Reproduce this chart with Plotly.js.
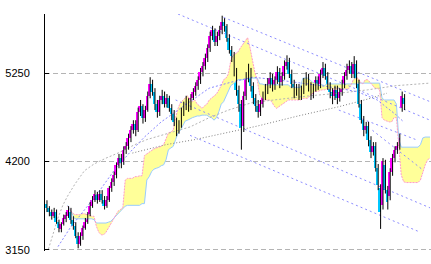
<!DOCTYPE html>
<html><head><meta charset="utf-8">
<script src="https://cdn.plot.ly/plotly-3.0.1.min.js"></script>
<style>html,body{margin:0;padding:0;background:#fff}#chart{width:431px;height:264px}</style>
</head><body><div id="chart"></div>
<script>
const open=[3700,3650,3600,3550,3600,3480,3400,3460,3520,3550,
3600,3510,3440,3320,3220,3320,3410,3480,3580,3670,
3740,3800,3740,3820,3740,3670,3740,3890,3960,4040,
4160,4240,4190,4340,4380,4480,4570,4650,4570,4790,
4860,4720,4810,4980,5120,5030,4880,4790,4930,4980,
4880,4950,4840,4760,4670,4570,4650,4790,4860,4910,
4840,4950,5030,5100,5170,5260,5330,5430,5550,5690,
5760,5620,5690,5760,5850,5810,5660,5520,5450,5260,
5050,4880,4620,4980,5190,5260,5100,4950,4860,4790,
4880,4980,5050,5120,5190,5100,5170,5260,5140,5210,
5330,5380,5240,5120,5030,5070,4980,5050,5140,5190,
5100,5000,5070,5170,5120,5240,5310,5210,5100,5030,
4980,5050,4950,5030,5120,5210,5290,5330,5240,5360,
5120,4880,4690,4570,4620,4460,4310,4380,4120,3890,
3680,4160,3860,3790,4080,4240,4340,4380,4840,4950];
const high=[3740,3670,3630,3650,3630,3510,3480,3570,3600,3670,
3650,3550,3480,3360,3360,3440,3530,3600,3720,3790,
3860,3840,3860,3860,3790,3790,3910,4000,4080,4190,
4290,4290,4380,4430,4530,4620,4690,4690,4840,4930,
4880,4860,5030,5200,5170,5070,4930,4980,5050,5030,
5000,4980,4880,4810,4720,4690,4840,4910,4980,4950,
5000,5070,5140,5210,5310,5380,5480,5590,5740,5810,
5780,5740,5810,5930,5900,5830,5710,5570,5500,5310,
5100,4930,5030,5260,5360,5310,5140,5000,4930,4930,
5030,5120,5190,5260,5240,5210,5330,5310,5260,5400,
5460,5430,5290,5170,5120,5120,5100,5190,5260,5240,
5140,5120,5210,5210,5290,5380,5360,5260,5140,5070,
5100,5100,5070,5170,5260,5360,5400,5380,5450,5400,
5170,4930,4740,4670,4670,4500,4430,4430,4170,3930,
4240,4220,3910,4120,4290,4380,4430,4530,5030,5000];
const low=[3600,3550,3510,3530,3460,3360,3360,3440,3480,3530,
3460,3390,3290,3170,3200,3270,3390,3460,3550,3650,
3720,3700,3720,3700,3630,3650,3720,3840,3910,4000,
4120,4120,4160,4290,4340,4430,4530,4500,4550,4740,
4650,4670,4790,4950,4980,4810,4720,4740,4880,4840,
4840,4790,4690,4620,4500,4530,4600,4740,4810,4790,
4810,4930,4980,5050,5120,5210,5290,5380,5500,5640,
5570,5570,5640,5710,5740,5620,5480,5380,5210,4980,
4790,4340,4550,4930,5140,5030,4880,4790,4720,4740,
4840,4930,5000,5070,5030,5050,5120,5070,5100,5170,
5290,5190,5070,4950,4980,4930,4930,5000,5100,5030,
4930,4950,5030,5050,5070,5190,5170,5050,4950,4880,
4930,4880,4910,4980,5070,5170,5240,5190,5190,5070,
4840,4650,4500,4530,4380,4240,4270,4080,3860,3400,
3630,3820,3630,3740,4030,4190,4290,4340,4790,4810];
const close=[3650,3600,3550,3600,3480,3410,3460,3530,3570,3630,
3510,3440,3320,3220,3320,3410,3480,3580,3670,3740,
3820,3740,3820,3740,3670,3740,3890,3960,4040,4160,
4240,4180,4340,4380,4480,4570,4650,4570,4790,4860,
4720,4810,4980,5120,5030,4880,4790,4930,4980,4880,
4950,4840,4760,4670,4570,4650,4790,4860,4910,4840,
4950,5030,5100,5170,5260,5330,5430,5550,5690,5760,
5620,5690,5760,5850,5810,5660,5520,5450,5260,5050,
4880,4600,4980,5190,5260,5100,4950,4860,4790,4880,
4980,5050,5120,5190,5100,5170,5260,5140,5210,5330,
5380,5240,5120,5030,5070,4980,5050,5140,5190,5100,
5000,5070,5170,5120,5240,5310,5210,5100,5030,4980,
5050,4950,5030,5120,5210,5290,5330,5240,5360,5120,
4880,4690,4570,4620,4460,4310,4380,4120,3920,3600,
4200,3860,3720,4080,4240,4340,4380,4480,4980,4880];

const spanStart=9;
const spanA=[3670,3630,3590,3570,3570,3570,3580,3580,3570,3570,3550,3550,
3430,3360,3330,3330,3360,3410,3460,3510,3570,3610,
3630,3650,3980,4000,4000,4000,4020,4020,4030,4030,
4270,4290,4310,4340,4350,4360,4370,4380,4400,4460,
4540,4550,4570,4720,4830,4900,4930,4950,4980,4930,
4910,4930,4880,4860,4830,4860,4880,4930,4950,4980,
5000,5050,5100,5170,5190,5240,5400,5460,5480,5500,
5550,5590,5640,5670,5550,5400,5260,5170,4990,4950,
4930,4930,4930,4910,4860,4830,4850,4860,4880,4910,
4930,4930,4930,4930,4930,4930,4950,4950,4950,4980,
5000,5030,5030,5040,5050,5050,5060,5060,5060,5060,
5060,5060,5060,5060,5060,5060,5100,5170,5190,5190,
5140,5120,5170,5170,5140,5100,5070,5070,5050,4720,
4690,4680,4670,4670,4720,4720,4400,4040,3960,3950,
3950,3950,3950,3950,3950,3980,4080,4160,4220,4240];
const spanB=[3680,3630,3580,3520,3520,3520,3520,3520,3520,3520,3520,3510,
3470,3470,3470,3470,3470,3480,3490,3520,3550,3580,
3600,3640,3670,3680,3680,3680,3680,3680,3680,3700,
3700,3980,4020,4080,4110,4120,4130,4150,4160,4220,
4340,4360,4380,4460,4540,4570,4630,4680,4690,4710,
4720,4730,4740,4740,4750,4750,4750,4730,4720,4690,
4720,4790,4880,4910,4980,5050,5100,5120,5140,5170,
5170,5170,5180,5180,5190,5190,5190,5190,5120,5120,
5110,5110,5110,5110,5110,5110,5110,5110,5110,5110,
5110,5080,5080,5080,5080,5080,5190,5190,5190,5170,
5140,5130,5120,5110,5110,5100,5120,5120,5120,5120,
5120,5120,5120,5120,5120,5120,5120,5120,5120,5130,
5130,5130,5130,5130,5130,5130,5130,5130,5130,4950,
4930,4930,4930,4930,4930,4880,4460,4370,4370,4370,
4370,4370,4370,4370,4370,4400,4480,4490,4490,4490];

const ma1X=[1,3,5,7,9,12,16,20,25,30,37,42,50,60,68,76,86,98,110,122,134,146,160];
const ma1=[3160,3360,3530,3680,3790,3930,4090,4170,4240,4300,4400,4460,4530,4610,4720,4810,4900,4940,4980,5010,5050,5100,5130];
const ma2X=[36,42,50,62,76,88,105,122,134,142];
const ma2=[4300,4340,4400,4460,4550,4620,4740,4850,4940,5010];
const ma3X=[5,10,16,22,28,35,41,48,55,62,68,77,86,96,110,122,130,138,146,149];
const ma3=[3190,3410,3625,3840,4080,4310,4490,4670,4810,4950,5070,5140,5200,5170,5120,5070,5025,4930,4750,4670];

const trendStartX=[55,74,54,60,122,136];
const trendStartY=[5950,5910,4930,4510,4810,4570];
const trendEndX=[160,160,160,156,155,157];
const trendEndY=[4690,4910,3650,3360,4450,4100];

const yTicks=[3150,4200,5250];
const yTickLabels=['3150','4200','5250'];

const idx=close.map((_,i)=>i);
const spanX=spanA.map((_,k)=>k+spanStart);
const UP='#ff00ff', DOWN='#00c8ff';

const traces=[];
traces.push({x:spanX,y:spanB,type:'scatter',mode:'lines',line:{width:0},hoverinfo:'skip'});
traces.push({x:spanX,y:spanA,type:'scatter',mode:'lines',line:{width:0},fill:'tonexty',fillcolor:'#ffff99',hoverinfo:'skip'});
traces.push({x:spanX,y:spanB,type:'scatter',mode:'lines',line:{width:1,color:'#99ccff'}});
traces.push({x:spanX,y:spanA,type:'scatter',mode:'lines',line:{width:1,color:'#ff99cc',dash:'2px,1px'}});
traces.push({x:ma1X,y:ma1,type:'scatter',mode:'lines',line:{width:1,color:'#b4b4b4',dash:'2px,2px'}});
traces.push({x:ma2X,y:ma2,type:'scatter',mode:'lines',line:{width:1,color:'#808080',dash:'1px,2px'}});
traces.push({x:ma3X,y:ma3,type:'scatter',mode:'lines',line:{width:1,color:'#8888ff',dash:'2px,2px'}});
trendStartX.forEach((sx,k)=>{
  traces.push({x:[sx,trendEndX[k]],y:[trendStartY[k],trendEndY[k]],type:'scatter',mode:'lines',line:{width:1,color:'#8c8cff',dash:'2px,3px'}});
});
const wx=[],wy=[];
idx.forEach(i=>{wx.push(i+0.4,i+0.4,null);wy.push(high[i],low[i],null);});
traces.push({x:wx,y:wy,type:'scatter',mode:'lines',line:{width:1,color:'#000'},connectgaps:false});
traces.push({x:idx,base:idx.map(i=>Math.min(open[i],close[i])),y:idx.map(i=>Math.abs(close[i]-open[i])),type:'bar',width:1.0,
  marker:{color:idx.map(i=>close[i]>=open[i]?UP:DOWN),line:{width:0}}});

const layout={width:431,height:264,margin:{l:45,r:0,t:14,b:13},paper_bgcolor:'#fff',plot_bgcolor:'#fff',showlegend:false,
  hovermode:false,bargap:0,
  xaxis:{range:[-0.42,160.4],showgrid:false,zeroline:false,showticklabels:false,ticks:'',showline:false},
  yaxis:{range:[3138,5950],tickmode:'array',tickvals:yTicks,ticktext:yTickLabels,showgrid:true,gridcolor:'#b4b4b4',griddash:'5px,3px',gridwidth:1,
    zeroline:false,showline:true,linecolor:'#000',linewidth:1,ticks:'inside',ticklen:4,tickcolor:'#000',
    tickfont:{family:'Liberation Sans, Arial, sans-serif',size:11,color:'#000'},ticklabelstandoff:12}
};
Plotly.newPlot('chart',traces,layout,{staticPlot:true,displayModeBar:false});
</script></body></html>
